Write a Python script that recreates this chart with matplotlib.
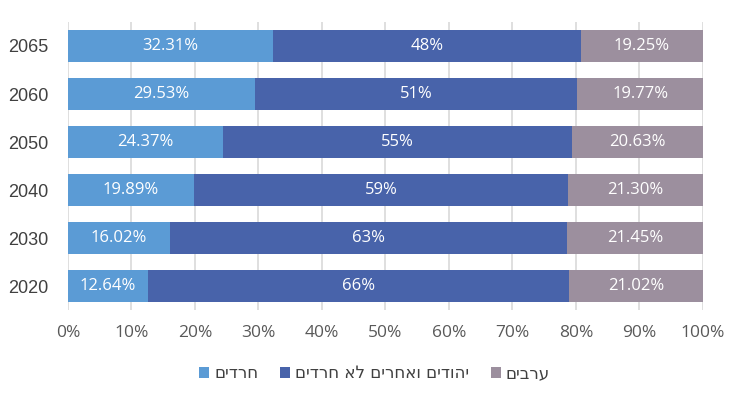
import matplotlib
matplotlib.use('Agg')
import matplotlib.pyplot as plt
import numpy as np

# Data (bottom to top)
years = ['2020', '2030', '2040', '2050', '2060', '2065']
haredim = [12.64, 16.02, 19.89, 24.37, 29.53, 32.31]
jews_other = [66.34, 62.53, 58.81, 55.00, 50.70, 48.44]
arabs = [21.02, 21.45, 21.30, 20.63, 19.77, 19.25]

# Hebrew legend names (reversed for left-to-right rendering)
names = ['חרדים', 'יהודים ואחרים לא חרדים', 'ערבים']
colors = ['#5B9BD5', '#4863AA', '#9C8F9E']

fig = plt.figure(figsize=(7.43, 3.97), dpi=100)
ax = fig.add_axes([0.0915, 0.219, 0.8545, 0.7256])

y = np.arange(len(years))
series = [haredim, jews_other, arabs]
fmts = ['{:.2f}%', '{:.0f}%', '{:.2f}%']
left = np.zeros(len(years))
handles = []
for vals, col, fmt, name in zip(series, colors, fmts, names):
    vals = np.array(vals)
    bars = ax.barh(y, vals, left=left, height=0.67, color=col, zorder=2,
                   label=name[::-1])
    handles.append(bars)
    for yi, (l, v) in enumerate(zip(left, vals)):
        ax.text(l + v / 2, yi, fmt.format(v), ha='center', va='center',
                color='white', fontsize=12, family='Open Sans', zorder=3)
    left = left + vals

ax.set_xlim(0, 100)
ax.set_ylim(-0.5, len(years) - 0.5)
ax.set_yticks(y)
ax.set_yticklabels(years, fontsize=13, color='#404040', family='Liberation Sans')
ax.set_xticks(np.arange(0, 101, 10))
ax.set_xticklabels(['{}%'.format(t) for t in range(0, 101, 10)],
                   fontsize=12.5, color='#595959', family='Open Sans')
ax.tick_params(axis='both', length=0)
ax.tick_params(axis='x', pad=11)
ax.tick_params(axis='y', pad=14)
ax.xaxis.grid(True, color='#d9d9d9', linewidth=1.2, zorder=0)
ax.set_axisbelow(True)
for s in ax.spines.values():
    s.set_visible(False)

leg = fig.legend(handles=handles, loc='center', bbox_to_anchor=(0.504, 0.06),
                 ncol=3, frameon=False, handlelength=0.6,
                 handleheight=0.6, handletextpad=0.3, columnspacing=1.3,
                 prop={'family': 'DejaVu Sans', 'size': 12})
for t in leg.get_texts():
    t.set_color('#404040')

fig.savefig('out.png', dpi=100)
